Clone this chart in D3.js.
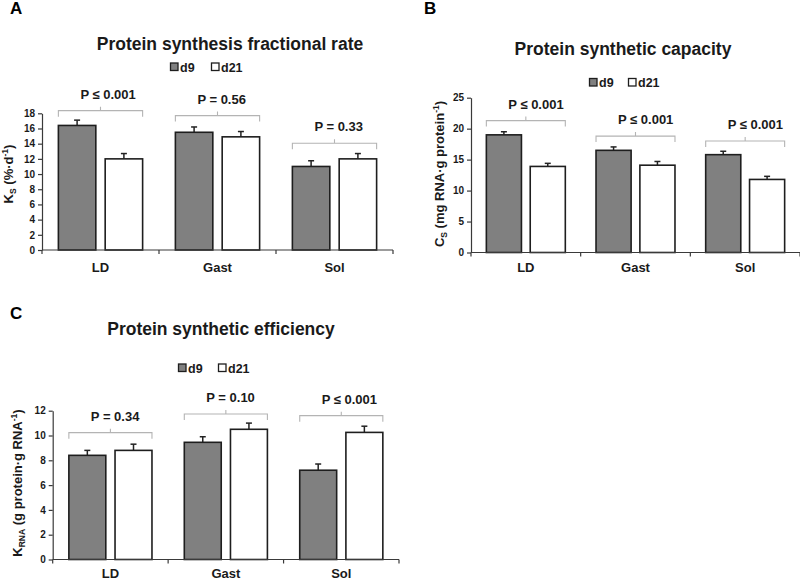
<!DOCTYPE html>
<html>
<head>
<meta charset="utf-8">
<script src="https://cdn.jsdelivr.net/npm/d3@7"></script>
<style>
  html, body { margin: 0; padding: 0; background: #fff; }
  svg { display: block; font-family: "Liberation Sans", Arial, Helvetica, sans-serif; }
</style>
</head>
<body>
<svg id="chart" width="800" height="580"></svg>
<script>
// ---------------- DATA ----------------
const categories = ["LD", "Gast", "Sol"];
const seriesNames = ["d9", "d21"];

// Panel A: protein synthesis fractional rate, Ks (%/d)
const ksD9 = [16.4, 15.5, 11.0];
const ksD9Err = [0.7, 0.7, 0.75];
const ksD21 = [12.0, 14.9, 12.0];
const ksD21Err = [0.7, 0.7, 0.7];
const ksTicks = [0, 2, 4, 6, 8, 10, 12, 14, 16, 18];
const ksP = ["P \u2264 0.001", "P = 0.56", "P = 0.33"];
const ksBracket = [18.35, 17.7, 14.06];

// Panel B: protein synthetic capacity, Cs (mg RNA/g protein)
const csD9 = [19.0, 16.5, 15.8];
const csD9Err = [0.5, 0.55, 0.55];
const csD21 = [13.9, 14.1, 11.8];
const csD21Err = [0.5, 0.6, 0.5];
const csTicks = [0, 5, 10, 15, 20, 25];
const csP = ["P \u2264 0.001", "P \u2264 0.001", "P \u2264 0.001"];
const csBracket = [21.3, 18.8, 18.0];

// Panel C: protein synthetic efficiency, KRNA (g protein/g RNA)
const krnaD9 = [8.4, 9.45, 7.2];
const krnaD9Err = [0.4, 0.45, 0.5];
const krnaD21 = [8.8, 10.5, 10.25];
const krnaD21Err = [0.5, 0.5, 0.5];
const krnaTicks = [0, 2, 4, 6, 8, 10, 12];
const krnaP = ["P = 0.34", "P = 0.10", "P \u2264 0.001"];
const krnaBracket = [10.23, 11.73, 11.6];

// ---------------- STYLE ----------------
const fillColor = { d9: "#808080", d21: "#ffffff" };
const barStroke = "#1e1e1e";
const axisColor = "#3a3a3a";
const bracketColor = "#b4b4b4";
const textColor = "#1a1a1a";

const svg = d3.select("#chart");

function drawPanel(cfg) {
  const g = svg.append("g");
  const x0 = d3.scaleBand().domain(categories).range(cfg.xRange).paddingInner(0).paddingOuter(0);
  const x1 = d3.scaleBand().domain(seriesNames).range([0, x0.bandwidth()]).paddingInner(0.2).paddingOuter(0.35);
  const y = d3.scaleLinear().domain([0, cfg.yMax]).range(cfg.yRange);

  const rows = categories.map((c, i) => ({
    cat: c,
    vals: [
      { s: "d9", v: cfg.d9[i], e: cfg.d9Err[i] },
      { s: "d21", v: cfg.d21[i], e: cfg.d21Err[i] }
    ],
    p: cfg.p[i],
    br: cfg.bracket[i]
  }));

  // panel letter
  g.append("text").attr("x", cfg.letterPos[0]).attr("y", cfg.letterPos[1])
    .attr("font-size", 17).attr("font-weight", "bold").attr("fill", "#000").text(cfg.letter);

  // title
  g.append("text").attr("x", cfg.titlePos[0]).attr("y", cfg.titlePos[1])
    .attr("text-anchor", "middle").attr("font-size", 17.5).attr("font-weight", "bold")
    .attr("fill", textColor).text(cfg.title);

  // legend
  const lg = g.append("g").attr("transform", `translate(${cfg.legendPos[0]},${cfg.legendPos[1]})`);
  seriesNames.forEach((s, i) => {
    const it = lg.append("g").attr("transform", `translate(${i * cfg.legendStep},0)`);
    it.append("rect").attr("x", 0.5).attr("y", -8.5).attr("width", 7.5).attr("height", 7.5)
      .attr("fill", fillColor[s]).attr("stroke", barStroke).attr("stroke-width", 1.3);
    it.append("text").attr("x", 10).attr("y", 0).attr("font-size", 12.5).attr("font-weight", "bold")
      .attr("fill", textColor).text(s);
  });

  // bars
  const grp = g.selectAll(".grp").data(rows).enter().append("g")
    .attr("transform", d => `translate(${x0(d.cat)},0)`);

  grp.selectAll("line.err").data(d => d.vals).enter().append("line")
    .attr("x1", d => x1(d.s) + x1.bandwidth() / 2)
    .attr("x2", d => x1(d.s) + x1.bandwidth() / 2)
    .attr("y1", d => y(d.v)).attr("y2", d => y(d.v + d.e))
    .attr("stroke", "#222").attr("stroke-width", 1.5);
  grp.selectAll("line.cap").data(d => d.vals).enter().append("line")
    .attr("x1", d => x1(d.s) + x1.bandwidth() / 2 - 3)
    .attr("x2", d => x1(d.s) + x1.bandwidth() / 2 + 3)
    .attr("y1", d => y(d.v + d.e)).attr("y2", d => y(d.v + d.e))
    .attr("stroke", "#222").attr("stroke-width", 1.5);

  grp.selectAll("rect").data(d => d.vals).enter().append("rect")
    .attr("x", d => x1(d.s)).attr("width", x1.bandwidth())
    .attr("y", d => y(d.v)).attr("height", d => y(0) - y(d.v))
    .attr("fill", d => fillColor[d.s]).attr("stroke", barStroke).attr("stroke-width", 1.6);

  // brackets and p-values
  grp.each(function (d) {
    const gg = d3.select(this);
    const l = x1("d9"), r = x1("d21") + x1.bandwidth();
    const by = y(d.br);
    const m = (l + r) / 2;
    gg.append("path")
      .attr("d", `M${l},${by + 6}V${by}H${r}V${by + 6}M${m},${by}V${by - 4}`)
      .attr("fill", "none").attr("stroke", bracketColor).attr("stroke-width", 1.1);
    gg.append("text").attr("x", l + 22).attr("y", by - 12)
      .attr("font-size", 13).attr("font-weight", "bold").attr("fill", textColor).text(d.p);
  });

  // y axis
  const ya = g.append("g").attr("transform", `translate(${cfg.xRange[0]},0)`)
    .call(d3.axisLeft(y).tickValues(cfg.ticks).tickSize(4).tickSizeOuter(0).tickPadding(3));
  ya.select(".domain").attr("stroke", axisColor).attr("stroke-width", 1.2);
  ya.selectAll(".tick line").attr("stroke", axisColor).attr("stroke-width", 1.2);
  ya.selectAll(".tick text").attr("font-size", 10).attr("font-weight", "bold").attr("fill", textColor)
    .attr("font-family", "Liberation Sans, Arial, sans-serif");

  // x axis
  const xa = g.append("g").attr("transform", `translate(0,${y(0)})`)
    .call(d3.axisBottom(x0).tickSize(0).tickPadding(0));
  xa.select(".domain").remove();
  xa.selectAll(".tick text").attr("dy", 0).attr("y", cfg.xLabelOffset)
    .attr("font-size", 13).attr("font-weight", "bold").attr("fill", textColor)
    .attr("font-family", "Liberation Sans, Arial, sans-serif");
  g.append("line").attr("x1", cfg.xRange[0]).attr("x2", cfg.xRange[1])
    .attr("y1", y(0)).attr("y2", y(0)).attr("stroke", axisColor).attr("stroke-width", 1.2);
  const bounds = categories.map(c => x0(c)).concat([x0(categories[categories.length - 1]) + x0.bandwidth()]);
  g.selectAll(".btick").data(bounds).enter().append("line")
    .attr("x1", d => d).attr("x2", d => d).attr("y1", y(0)).attr("y2", y(0) + 4)
    .attr("stroke", axisColor).attr("stroke-width", 1.2);

  // y label
  const yl = g.append("text")
    .attr("transform", `translate(${cfg.yLabelPos[0]},${cfg.yLabelPos[1]}) rotate(-90)`)
    .attr("text-anchor", "middle").attr("font-size", 13).attr("font-weight", "bold").attr("fill", textColor);
  yl.append("tspan").text(cfg.yLabel[0]);
  yl.append("tspan").attr("font-size", 8.5).attr("dy", 3).text(cfg.yLabel[1]);
  yl.append("tspan").attr("dy", -3).text(cfg.yLabel[2]);
  yl.append("tspan").attr("font-size", 8.5).attr("dy", -5).text(cfg.yLabel[3]);
  yl.append("tspan").attr("dy", 5).text(cfg.yLabel[4]);
}

drawPanel({
  letter: "A", letterPos: [10, 14],
  title: "Protein synthesis fractional rate", titlePos: [230, 50],
  legendPos: [170, 71.5], legendStep: 41,
  xRange: [42, 393], yRange: [250, 113.3], yMax: 18, ticks: ksTicks,
  d9: ksD9, d9Err: ksD9Err, d21: ksD21, d21Err: ksD21Err, p: ksP, bracket: ksBracket,
  xLabelOffset: 22,
  yLabelPos: [13, 174], yLabel: ["K", "S", " (%\u00b7d", "-1", ")"]
});

drawPanel({
  letter: "B", letterPos: [424, 14],
  title: "Protein synthetic capacity", titlePos: [623, 55],
  legendPos: [589, 87], legendStep: 39,
  xRange: [471, 800], yRange: [252.5, 97.7], yMax: 25, ticks: csTicks,
  d9: csD9, d9Err: csD9Err, d21: csD21, d21Err: csD21Err, p: csP, bracket: csBracket,
  xLabelOffset: 19.5,
  yLabelPos: [444, 174], yLabel: ["C", "S", " (mg RNA\u00b7g protein", "-1", ")"]
});

drawPanel({
  letter: "C", letterPos: [10, 319],
  title: "Protein synthetic efficiency", titlePos: [221, 335],
  legendPos: [178, 372.5], legendStep: 40,
  xRange: [52.7, 399], yRange: [559.5, 410.7], yMax: 12, ticks: krnaTicks,
  d9: krnaD9, d9Err: krnaD9Err, d21: krnaD21, d21Err: krnaD21Err, p: krnaP, bracket: krnaBracket,
  xLabelOffset: 18.5,
  yLabelPos: [22, 483], yLabel: ["K", "RNA", " (g protein\u00b7g RNA", "-1", ")"]
});
</script>
</body>
</html>
